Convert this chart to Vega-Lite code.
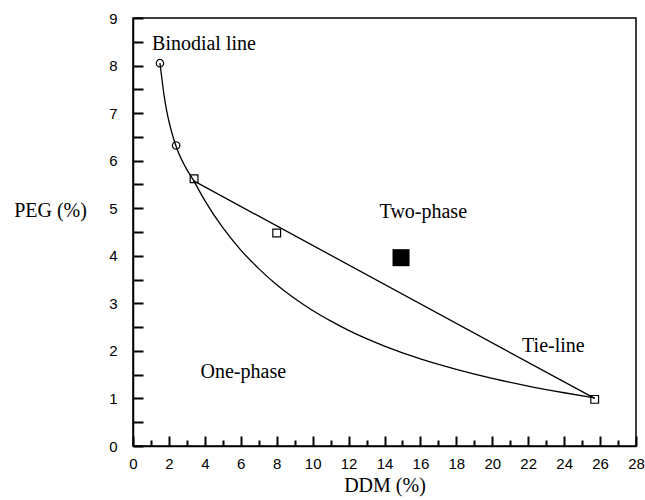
{
  "$schema": "https://vega.github.io/schema/vega-lite/v6.json",
  "autosize": "none",
  "width": 503,
  "height": 428,
  "padding": {"left": 133, "top": 18, "right": 9, "bottom": 54},
  "background": "white",
  "config": {
    "view": {"stroke": "black", "strokeWidth": 1.5},
    "axis": {
      "grid": false,
      "domainColor": "black",
      "domainWidth": 1.5,
      "labelColor": "black",
      "labelFont": "Liberation Sans",
      "labelFontSize": 15,
      "titleColor": "black",
      "titleFont": "Liberation Serif",
      "titleFontSize": 20,
      "titleFontWeight": "normal"
    }
  },
  "resolve": {"axis": {"x": "independent", "y": "independent"}},
  "layer": [
    {
      "data": {"values": [
        {"x": 1.5, "y": 8.05},
        {"x": 1.6, "y": 7.75},
        {"x": 1.72, "y": 7.4},
        {"x": 1.87, "y": 7.06},
        {"x": 2.05, "y": 6.75},
        {"x": 2.27, "y": 6.45},
        {"x": 2.5, "y": 6.2},
        {"x": 2.9, "y": 5.88},
        {"x": 3.36, "y": 5.59},
        {"x": 4.0, "y": 5.16},
        {"x": 5.0, "y": 4.59},
        {"x": 6.0, "y": 4.12},
        {"x": 7.0, "y": 3.73},
        {"x": 8.0, "y": 3.39},
        {"x": 9.0, "y": 3.1},
        {"x": 10.0, "y": 2.85},
        {"x": 11.0, "y": 2.63},
        {"x": 12.0, "y": 2.43},
        {"x": 14.0, "y": 2.1},
        {"x": 16.0, "y": 1.83},
        {"x": 18.0, "y": 1.61},
        {"x": 20.0, "y": 1.42},
        {"x": 22.0, "y": 1.26},
        {"x": 24.0, "y": 1.12},
        {"x": 25.7, "y": 1.01}
      ]},
      "mark": {"type": "line", "color": "black", "strokeWidth": 1.3, "interpolate": "monotone"},
      "encoding": {
        "x": {
          "field": "x", "type": "quantitative",
          "scale": {"domain": [0, 28], "nice": false, "zero": false},
          "axis": {
            "orient": "bottom",
            "title": "DDM (%)",
            "values": [0,2,4,6,8,10,12,14,16,18,20,22,24,26,28],
            "format": "d",
            "ticks": false,
            "labelPadding": 10,
            "labelFlush": false,
            "labelOverlap": false,
            "titleY": 39,
            "titleBaseline": "middle"
          }
        },
        "y": {
          "field": "y", "type": "quantitative",
          "scale": {"domain": [0, 9], "nice": false, "zero": false},
          "axis": {
            "orient": "left",
            "title": "PEG (%)",
            "values": [0,1,2,3,4,5,6,7,8,9],
            "format": "d",
            "ticks": false,
            "labelPadding": 16,
            "labelFlush": false,
            "labelOverlap": false,
            "titleAngle": 0,
            "titleAlign": "center",
            "titleBaseline": "middle",
            "titleX": -83,
            "titleY": 192
          }
        }
      }
    },
    {
      "data": {"values": [
        {"x": 3.36, "y": 5.58},
        {"x": 25.7, "y": 1.0}
      ]},
      "mark": {"type": "line", "color": "black", "strokeWidth": 1.3},
      "encoding": {
        "x": {
          "field": "x", "type": "quantitative",
          "scale": {"domain": [0, 28], "nice": false, "zero": false},
          "axis": {
            "orient": "bottom", "title": null, "domain": false, "labels": false, "ticks": true,
            "values": [0,2,4,6,8,10,12,14,16,18,20,22,24,26,28],
            "offset": -10, "tickSize": 10, "tickColor": "#000000", "tickWidth": 2, "tickOpacity": 1
          }
        },
        "y": {
          "field": "y", "type": "quantitative",
          "scale": {"domain": [0, 9], "nice": false, "zero": false},
          "axis": {
            "orient": "left", "title": null, "domain": false, "labels": false, "ticks": true,
            "values": [0,0.5,1,1.5,2,2.5,3,3.5,4,4.5,5,5.5,6,6.5,7,7.5,8,8.5,9],
            "offset": -10, "tickSize": 10, "tickColor": "#000000", "tickWidth": 2, "tickOpacity": 1
          }
        }
      }
    },
    {
      "data": {"values": [
        {"x": 1.5, "y": 8.05},
        {"x": 2.4, "y": 6.32}
      ]},
      "mark": {"type": "point", "shape": "circle", "filled": false, "color": "black", "size": 55, "strokeWidth": 1.2, "opacity": 1},
      "encoding": {
        "x": {
          "field": "x", "type": "quantitative",
          "scale": {"domain": [0, 28], "nice": false, "zero": false},
          "axis": {
            "orient": "bottom", "title": null, "domain": false, "labels": false, "ticks": true,
            "values": [1,3,5,7,9,11,13,15,17,19,21,23,25,27],
            "offset": -6, "tickSize": 6, "tickColor": "#000000", "tickWidth": 2, "tickOpacity": 1
          }
        },
        "y": {"field": "y", "type": "quantitative", "scale": {"domain": [0, 9], "nice": false, "zero": false}, "axis": null}
      }
    },
    {
      "data": {"values": [
        {"x": 3.4, "y": 5.62},
        {"x": 8.0, "y": 4.48},
        {"x": 25.7, "y": 0.98}
      ]},
      "mark": {"type": "point", "shape": "square", "filled": false, "color": "black", "size": 60, "strokeWidth": 1.2, "opacity": 1},
      "encoding": {
        "x": {"field": "x", "type": "quantitative", "scale": {"domain": [0, 28], "nice": false, "zero": false}, "axis": null},
        "y": {"field": "y", "type": "quantitative", "scale": {"domain": [0, 9], "nice": false, "zero": false}, "axis": null}
      }
    },
    {
      "data": {"values": [
        {"x": 14.92, "y": 3.96}
      ]},
      "mark": {"type": "point", "shape": "square", "filled": true, "color": "black", "size": 290, "opacity": 1},
      "encoding": {
        "x": {"field": "x", "type": "quantitative", "scale": {"domain": [0, 28], "nice": false, "zero": false}, "axis": null},
        "y": {"field": "y", "type": "quantitative", "scale": {"domain": [0, 9], "nice": false, "zero": false}, "axis": null}
      }
    },
    {
      "data": {"values": [
        {"x": 16.16, "y": 4.92, "label": "Two-phase"},
        {"x": 23.4, "y": 2.1, "label": "Tie-line"},
        {"x": 6.14, "y": 1.56, "label": "One-phase"}
      ]},
      "mark": {"type": "text", "font": "Liberation Serif", "fontSize": 20, "color": "black", "align": "center", "baseline": "middle"},
      "encoding": {
        "x": {"field": "x", "type": "quantitative", "scale": {"domain": [0, 28], "nice": false, "zero": false}, "axis": null},
        "y": {"field": "y", "type": "quantitative", "scale": {"domain": [0, 9], "nice": false, "zero": false}, "axis": null},
        "text": {"field": "label"}
      }
    },
    {
      "data": {"values": [
        {"x": 1.06, "y": 8.45, "label": "Binodial line"}
      ]},
      "mark": {"type": "text", "font": "Liberation Serif", "fontSize": 20, "color": "black", "align": "left", "baseline": "middle"},
      "encoding": {
        "x": {"field": "x", "type": "quantitative", "scale": {"domain": [0, 28], "nice": false, "zero": false}, "axis": null},
        "y": {"field": "y", "type": "quantitative", "scale": {"domain": [0, 9], "nice": false, "zero": false}, "axis": null},
        "text": {"field": "label"}
      }
    }
  ]
}
